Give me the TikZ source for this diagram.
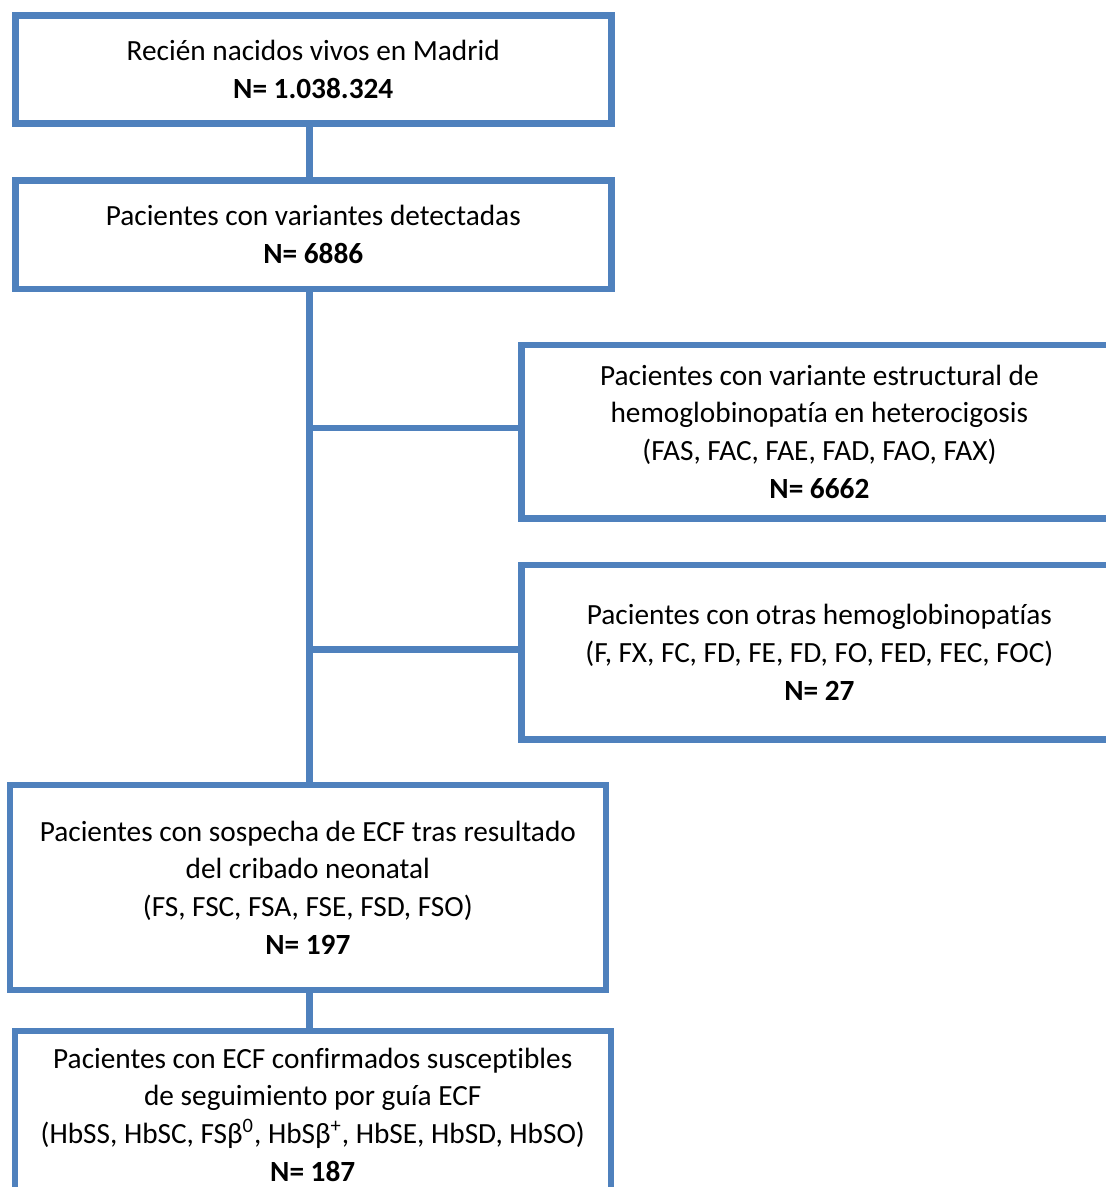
\documentclass[tikz,border=0pt]{standalone}
\usepackage{fontspec}
\setmainfont{Carlito}[Ligatures=NoCommon]
\definecolor{boxblue}{RGB}{79,129,189}

\begin{document}
\begin{tikzpicture}[x=0.5pt, y=-0.5pt,
    flowbox/.style={draw=boxblue, line width=3.25pt, fill=white, minimum width=298pt,
      inner sep=0pt, outer sep=0pt, align=center, font=\fontsize{14.65}{18.85}\selectfont},
    link/.style={draw=boxblue, line width=3.25pt}]
    \useasboundingbox[fill=white] (0,0) rectangle (1105,1187);

    % main column
    \node[flowbox, minimum height=54.1pt] (born) at (313.25,69.6)
      {Recién nacidos vivos en Madrid\\ \textbf{N= 1.038.324}};
    \node[flowbox, minimum height=54.35pt] (detected) at (313.25,234.65)
      {Pacientes con variantes detectadas\\ \textbf{N= 6886}};
    \node[flowbox, minimum height=102.5pt] (suspect) at (307.85,887.5)
      {Pacientes con sospecha de ECF tras resultado\\ del cribado neonatal\\
       (FS, FSC, FSA, FSE, FSD, FSO)\\ \textbf{N= 197}};
    \node[flowbox, minimum height=83.5pt] (confirmed) at (312.75,1114.5)
      {Pacientes con ECF confirmados susceptibles\\ de seguimiento por guía ECF\\
       (HbSS, HbSC, FSβ\textsuperscript{0}, HbSβ\textsuperscript{+}, HbSE, HbSD, HbSO)\\ \textbf{N= 187}};

    % side branches
    \node[flowbox, minimum height=86.75pt] (hetero) at (819.4,431.75)
      {Pacientes con variante estructural de\\ hemoglobinopatía en heterocigosis\\
       (FAS, FAC, FAE, FAD, FAO, FAX)\\ \textbf{N= 6662}};
    \node[flowbox, minimum height=87.25pt] (other) at (819.4,652.25)
      {Pacientes con otras hemoglobinopatías\\
       (F, FX, FC, FD, FE, FD, FO, FED, FEC, FOC)\\ \textbf{N= 27}};

    % connectors
    \coordinate (spine) at (309.5,0);
    \draw[link] (born.south -| spine) -- (detected.north -| spine);
    \draw[link] (detected.south -| spine) -- (suspect.north -| spine);
    \draw[link] ([yshift=1.9pt]spine |- hetero.west) -- ([yshift=1.9pt]hetero.west);
    \draw[link] ([yshift=1.5pt]spine |- other.west) -- ([yshift=1.5pt]other.west);
    \draw[link] (suspect.south -| spine) -- (confirmed.north -| spine);
\end{tikzpicture}
\end{document}
